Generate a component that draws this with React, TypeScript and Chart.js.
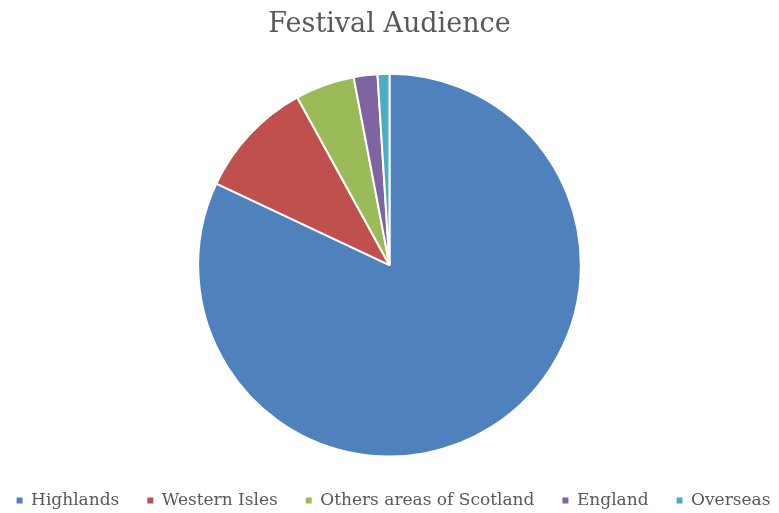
import React, { useEffect, useRef } from "react";
import { Chart, registerables } from "chart.js";

Chart.register(...registerables);

const categories = ["Highlands", "Western Isles", "Others areas of Scotland", "England", "Overseas"];
const values = [82, 10, 5, 2, 1];
const colors = ["#4F81BD", "#C0504D", "#9BBB59", "#8064A2", "#4BACC6"];
const titleText = "Festival Audience";

const legendShift = {
  id: "legendShift",
  afterLayout(chart: any) {
    if (chart.legend) {
      chart.legend.left += 4;
      chart.legend.right += 4;
    }
  },
};

export default function App() {
  const ref = useRef<HTMLCanvasElement | null>(null);
  useEffect(() => {
    if (!ref.current) return;
    const chart = new Chart(ref.current, {
      type: "pie",
      data: {
        labels: categories,
        datasets: [
          {
            data: values,
            backgroundColor: colors,
            borderColor: "#ffffff",
            borderWidth: 2,
          },
        ],
      },
      plugins: [legendShift],
      options: {
        animation: false,
        responsive: false,
        maintainAspectRatio: false,
        layout: { padding: { top: 0, bottom: 0, left: 0, right: 0 } },
        plugins: {
          title: {
            display: true,
            text: titleText,
            color: "#595959",
            font: { family: "DejaVu Serif", size: 27, weight: "normal" },
            padding: { top: 9, bottom: 31.4 },
          },
          legend: {
            position: "bottom",
            title: {
              display: true,
              text: " ",
              font: { size: 1 },
              padding: { top: 3, bottom: 2.3 },
            },
            labels: {
              color: "#595959",
              font: { family: "DejaVu Serif", size: 17 },
              usePointStyle: true,
              pointStyle: "rect",
              boxWidth: 6,
              boxHeight: 6,
              pointStyleWidth: 6,
              padding: 28,
              generateLabels: (c: any) => {
                const items = Chart.overrides.pie.plugins.legend.labels.generateLabels(c);
                return items.map((it: any) => ({ ...it, lineWidth: 0, strokeStyle: "transparent" }));
              },
            },
          },
          tooltip: { enabled: false },
        },
      },
    });
    return () => chart.destroy();
  }, []);
  return (
    <div style={{ position: "absolute", left: 0, top: 0, width: 779, height: 513, overflow: "hidden", background: "#fff" }}>
      <canvas
        ref={ref}
        width={839}
        height={519}
        style={{ width: 839, height: 519, display: "block", marginLeft: -30 }}
      />
    </div>
  );
}
